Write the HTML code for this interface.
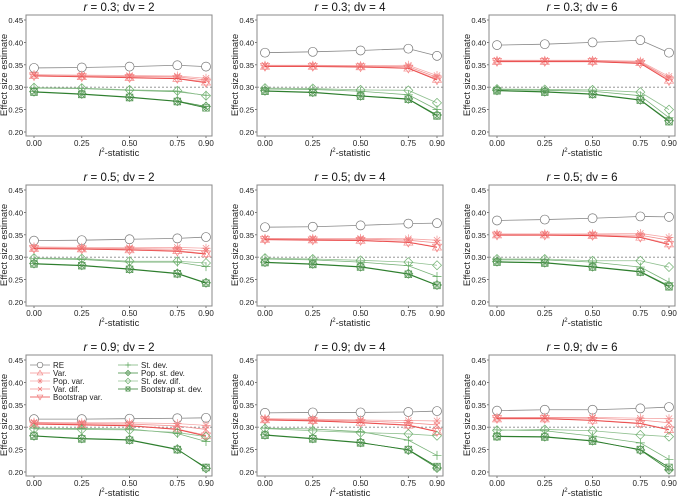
<!DOCTYPE html>
<html><head><meta charset="utf-8"><style>
body{margin:0;background:#fff}
svg{display:block;font-family:"Liberation Sans",sans-serif}
</style></head><body>
<svg id="c" width="677" height="499" viewBox="0 0 677 499"></svg>
<script>
const titles=[["0.3","2"],["0.3","4"],["0.3","6"],["0.5","2"],["0.5","4"],["0.5","6"],["0.9","2"],["0.9","4"],["0.9","6"]];
const xVals=[0,0.25,0.5,0.75,0.9];
const xTicks=["0.00","0.25","0.50","0.75","0.90"];
const yTicks=[0.20,0.25,0.30,0.35,0.40,0.45];
const re=[[.343,.344,.346,.349,.346],[.377,.379,.382,.386,.370],[.394,.396,.400,.405,.377],[.337,.338,.340,.342,.345],[.367,.368,.371,.375,.376],[.382,.384,.387,.391,.390],[.318,.318,.319,.320,.321],[.332,.333,.333,.334,.336],[.337,.339,.339,.342,.345]];
const varS=[[.326,.324,.322,.320,.312],[.347,.347,.346,.343,.318],[.358,.358,.358,.355,.316],[.320,.319,.317,.315,.308],[.340,.339,.338,.334,.323],[.350,.350,.349,.345,.330],[.308,.306,.304,.296,.282],[.317,.315,.311,.305,.291],[.319,.319,.316,.309,.295]];
const popVar=[[.328,.327,.326,.325,.320],[.349,.349,.348,.349,.326],[.360,.360,.360,.358,.324],[.323,.322,.321,.322,.320],[.342,.342,.342,.341,.338],[.352,.352,.352,.353,.344],[.311,.310,.310,.308,.304],[.319,.318,.316,.315,.314],[.322,.322,.322,.320,.319]];
const varDif=[[.327,.325,.324,.323,.316],[.348,.348,.347,.346,.322],[.359,.359,.359,.356,.320],[.321,.320,.319,.318,.314],[.341,.340,.340,.338,.332],[.351,.351,.350,.349,.338],[.310,.308,.307,.303,.295],[.318,.316,.314,.310,.305],[.321,.321,.320,.316,.310]];
const bootVar=[[.325,.323,.321,.319,.310],[.346,.346,.345,.342,.316],[.357,.357,.357,.353,.314],[.319,.318,.316,.313,.307],[.339,.338,.337,.333,.322],[.349,.349,.348,.344,.328],[.307,.305,.303,.295,.280],[.316,.314,.310,.304,.290],[.319,.319,.315,.308,.294]];
const sd=[[.298,.297,.293,.290,.282],[.296,.295,.291,.283,.250],[.295,.293,.291,.281,.232],[.297,.295,.289,.289,.279],[.296,.294,.289,.281,.257],[.294,.294,.289,.278,.244],[.298,.297,.296,.286,.268],[.298,.296,.290,.271,.237],[.294,.292,.280,.265,.228]];
const popSd=[[.290,.285,.278,.269,.257],[.292,.289,.281,.274,.238],[.293,.290,.285,.272,.225],[.286,.282,.274,.264,.243],[.289,.285,.279,.263,.238],[.290,.288,.279,.268,.236],[.281,.275,.272,.251,.208],[.283,.275,.266,.249,.209],[.280,.279,.270,.249,.205]];
const sdDif=[[.299,.298,.294,.292,.281],[.298,.297,.294,.293,.265],[.296,.295,.294,.289,.250],[.298,.297,.291,.291,.287],[.298,.296,.293,.289,.282],[.296,.296,.292,.292,.278],[.296,.295,.294,.288,.279],[.297,.292,.288,.285,.281],[.293,.295,.292,.283,.279]];
const bootSd=[[.289,.284,.277,.268,.254],[.291,.288,.280,.273,.236],[.292,.289,.284,.271,.223],[.285,.281,.273,.263,.242],[.288,.284,.278,.262,.237],[.289,.287,.278,.267,.234],[.280,.274,.271,.250,.210],[.282,.274,.265,.250,.212],[.279,.278,.269,.250,.210]];

const series=[
 {n:"RE",d:re,c:"#777",lc:"#888",m:"circle",key:"re"},
 {n:"Var.",d:varS,c:"#f49090",lc:"#f49090",m:"tri",key:"var"},
 {n:"Pop. var.",d:popVar,c:"#f28a8a",lc:"#f5a8a8",m:"ast",key:"pop-var"},
 {n:"Var. dif.",d:varDif,c:"#f07070",lc:"#f29090",m:"x",key:"var-dif"},
 {n:"Bootstrap var.",d:bootVar,c:"#f48080",lc:"#e84040",m:"dtri",key:"bootstrap-var"},
 {n:"St. dev.",d:sd,c:"#5aa55a",lc:"#78b278",m:"plus",key:"st-dev"},
 {n:"Pop. st. dev.",d:popSd,c:"#5a9a5a",lc:"#3a8a3a",m:"dplus",key:"pop-st-dev"},
 {n:"St. dev. dif.",d:sdDif,c:"#70b070",lc:"#90c090",m:"diam",key:"st-dev-dif"},
 {n:"Bootstrap st. dev.",d:bootSd,c:"#5a9a5a",lc:"#2a7a2a",m:"sqx",key:"bootstrap-st-dev"}
];
const svg=document.getElementById('c');
const NS="http://www.w3.org/2000/svg";
function el(t,a,p){const e=document.createElementNS(NS,t);for(const k in a)e.setAttribute(k,a[k]);(p||svg).appendChild(e);return e;}
function marker(g,m,x,y,c,s){
 const r=s||4.5;let e;
 const st={fill:"none",stroke:c,"stroke-width":0.7};
 if(m==="circle"){e=el("circle",Object.assign({cx:x,cy:y,r:r},st,{fill:"#fff"}),g);}
 else if(m==="tri"){e=el("polygon",Object.assign({points:`${x},${y-r} ${x-r},${y+r*0.7} ${x+r},${y+r*0.7}`},st),g);}
 else if(m==="dtri"){e=el("polygon",Object.assign({points:`${x},${y+r} ${x-r},${y-r*0.7} ${x+r},${y-r*0.7}`},st),g);}
 else if(m==="ast"){e=el("path",Object.assign({d:`M${x-r} ${y}H${x+r}M${x} ${y-r}V${y+r}M${x-r*.7} ${y-r*.7}L${x+r*.7} ${y+r*.7}M${x-r*.7} ${y+r*.7}L${x+r*.7} ${y-r*.7}`},st),g);}
 else if(m==="x"){e=el("path",Object.assign({d:`M${x-r*.7} ${y-r*.7}L${x+r*.7} ${y+r*.7}M${x-r*.7} ${y+r*.7}L${x+r*.7} ${y-r*.7}`},st),g);}
 else if(m==="plus"){e=el("path",Object.assign({d:`M${x-r} ${y}H${x+r}M${x} ${y-r}V${y+r}`},st),g);}
 else if(m==="dplus"){e=el("path",Object.assign({d:`M${x} ${y-r}L${x+r} ${y}L${x} ${y+r}L${x-r} ${y}ZM${x-r} ${y}H${x+r}M${x} ${y-r}V${y+r}`},st),g);}
 else if(m==="diam"){e=el("polygon",Object.assign({points:`${x},${y-r} ${x+r},${y} ${x},${y+r} ${x-r},${y}`},st),g);}
 else if(m==="sqx"){e=el("path",Object.assign({d:`M${x-r*.75} ${y-r*.75}H${x+r*.75}V${y+r*.75}H${x-r*.75}ZM${x-r*.75} ${y-r*.75}L${x+r*.75} ${y+r*.75}M${x-r*.75} ${y+r*.75}L${x+r*.75} ${y-r*.75}`},st),g);}
 return e;
}
const lefts=[26,257,489], tops=[15,185,355];
for(let p=0;p<9;p++){
 const L=lefts[p%3],T=tops[Math.floor(p/3)];
 const W=186;
 const g=el("g",{});
 
 
 const xs=v=>L+8+v/0.9*172;
 const ys=v=>T+5+(0.45-v)/0.05*22.4;
 const t=el("text",{x:L+W/2,y:T-4,"text-anchor":"middle","font-size":11.5,fill:"#111"},g);
 
 
 t.innerHTML=`<tspan font-style="italic">r</tspan> = ${titles[p][0]}; dv = ${titles[p][1]}`;
 el("line",{x1:L,x2:L+W,y1:ys(0.3),y2:ys(0.3),stroke:"#888","stroke-dasharray":"2,2","stroke-width":0.8},g);
 yTicks.forEach(v=>{
  el("line",{x1:L-2,x2:L,y1:ys(v),y2:ys(v),stroke:"#555","stroke-width":0.8},g);
  const tt=el("text",{x:L-3,y:ys(v)+3,"text-anchor":"end","font-size":7.5,fill:"#222"},g);
  
  
  tt.textContent=v.toFixed(2);
 });
 xVals.forEach((v,i)=>{
  el("line",{x1:xs(v),x2:xs(v),y1:T+121,y2:T+123,stroke:"#555","stroke-width":0.8},g);
  const tt=el("text",{x:xs(v),y:T+131,"text-anchor":"middle","font-size":8,fill:"#222"},g);
  
  
  tt.textContent=xTicks[i];
 });
 const xl=el("text",{x:L+W/2,y:T+141,"text-anchor":"middle","font-size":9.5,fill:"#222"},g);
 
 
 xl.innerHTML='<tspan font-style="italic">I</tspan><tspan font-size="6" dy="-4">2</tspan><tspan dy="4">-statistic</tspan>';
 const yl=el("text",{transform:`translate(${L-19},${T+60}) rotate(-90)`,"text-anchor":"middle","font-size":9.5,fill:"#222"},g);
 
 
 yl.textContent="Effect size estimate";
 series.forEach(s=>{
  const sg=el("g",{},g);
  
  
  const pts=s.d[p].map((v,i)=>xs(xVals[i])+","+ys(v)).join(" ");
  el("polyline",{points:pts,fill:"none",stroke:s.lc,"stroke-width":0.8},sg);
  s.d[p].forEach((v,i)=>{const mk=marker(sg,s.m,xs(xVals[i]),ys(v),s.c);
   
   });
 });
 el("rect",{x:L,y:T,width:W,height:121,fill:"none",stroke:"#888","stroke-width":1},g);
}
const lg=el("g",{});


series.forEach((s,i)=>{
 const col=i<5?0:1,row=i<5?i:i-5;
 const x0=col?118:30,y0=365+row*8;
 const e=el("g",{},lg);
 
 
 el("line",{x1:x0,x2:x0+20,y1:y0,y2:y0,stroke:s.lc,"stroke-width":0.8},e);
 marker(e,s.m,x0+10,y0,s.c,2.8);
 const t=el("text",{x:x0+23,y:y0+3,"font-size":8,fill:"#222"},e);
 t.textContent=s.n;
});
</script>
</body></html>
